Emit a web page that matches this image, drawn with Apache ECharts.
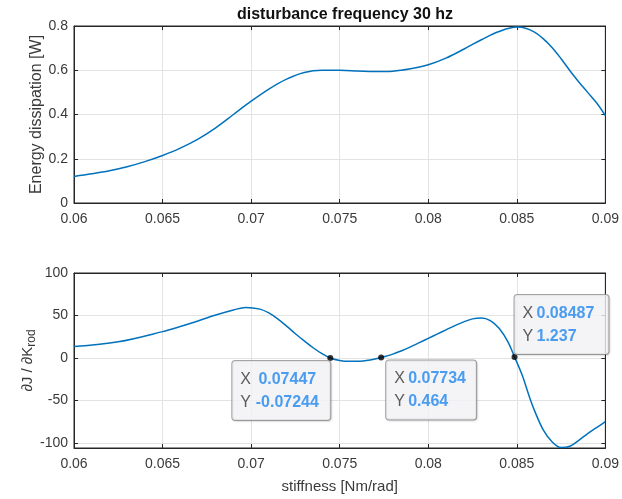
<!DOCTYPE html>
<html>
<head>
<meta charset="utf-8">
<script src="https://cdn.jsdelivr.net/npm/echarts@6/dist/echarts.min.js"></script>
<style>
  html, body { margin: 0; padding: 0; background: #fff; }
  #chart { width: 622px; height: 499px; }
</style>
</head>
<body>
<div id="chart"></div>
<script>
// Stiffness sweep (Nm/rad)
const stiffness = [0.060, 0.061, 0.062, 0.063, 0.064, 0.065, 0.066, 0.067, 0.068, 0.069,
  0.070, 0.071, 0.072, 0.073, 0.074, 0.075, 0.076, 0.077, 0.078, 0.079,
  0.080, 0.081, 0.082, 0.083, 0.084, 0.085, 0.0855, 0.086, 0.0865, 0.087,
  0.0875, 0.088, 0.0885, 0.089, 0.0895, 0.090];
// Energy dissipation (W)
const energy = [0.120, 0.132, 0.146, 0.164, 0.187, 0.215, 0.248, 0.289, 0.340, 0.400,
  0.460, 0.515, 0.560, 0.590, 0.600, 0.600, 0.597, 0.594, 0.596, 0.607,
  0.625, 0.655, 0.695, 0.738, 0.775, 0.795, 0.790, 0.772, 0.742, 0.702,
  0.652, 0.598, 0.547, 0.500, 0.453, 0.395];

// Gradient dJ/dK_rod
const gradX = [0.060, 0.0625, 0.065, 0.066, 0.067, 0.068, 0.069, 0.0697, 0.0705, 0.071,
  0.0715, 0.072, 0.0725, 0.073, 0.0735, 0.074, 0.07447, 0.075, 0.0755, 0.076,
  0.0765, 0.077, 0.07734, 0.078, 0.0785, 0.079, 0.0795, 0.080, 0.0805, 0.081,
  0.0815, 0.082, 0.0825, 0.083, 0.0835, 0.084, 0.0845, 0.08487, 0.0853, 0.0857,
  0.086, 0.0865, 0.087, 0.0875, 0.088, 0.0885, 0.089, 0.0895, 0.090];
const gradY = [13.4, 19, 31, 37, 43.5, 50.5, 56.5, 59.5, 57.5, 53,
  46, 37.5, 28.5, 20, 12, 5, -0.07244, -3, -4, -4,
  -3, -1.2, 0.464, 4.5, 8.5, 13, 18, 23, 28, 33,
  38, 42.5, 46, 47, 44, 35, 19, 1.237, -20, -45,
  -62, -85, -99, -105.5, -104, -97, -89, -82, -75];

// Annotated zero crossings
const tipX = [0.07447, 0.07734, 0.08487];
const tipY = [-0.07244, 0.464, 1.237];
const tipText = [['0.07447', '-0.07244'], ['0.07734', '0.464'], ['0.08487', '1.237']];

const xTicks = ['0.06', '0.065', '0.07', '0.075', '0.08', '0.085', '0.09'];
const topYTicks = ['0', '0.2', '0.4', '0.6', '0.8'];
const bottomYTicks = [-100, -50, 0, 50, 100];

const FONT = '"Liberation Sans", Arial, Helvetica, sans-serif';
const AX = '#262626';
const TXT = '#3a3a3a';
const LINE = '#0072BD';

function xAxisFor(gridIndex, name) {
  return {
    type: 'value', gridIndex: gridIndex, min: 0.06, max: 0.09, interval: 0.005,
    position: 'bottom',
    axisLine: { show: true, onZero: false, lineStyle: { color: AX, width: 1 } },
    axisTick: { show: true, inside: true, length: 4, lineStyle: { color: AX } },
    axisLabel: {
      color: TXT, fontFamily: FONT, fontSize: 14, margin: 9,
      formatter: (v, i) => xTicks[i]
    },
    splitLine: { show: true, lineStyle: { color: '#e3e3e3', width: 1 } },
    name: name || '', nameLocation: 'middle', nameGap: 31,
    nameTextStyle: { color: TXT, fontFamily: FONT, fontSize: 15 }
  };
}
function xMirror(gridIndex) {
  return {
    type: 'value', gridIndex: gridIndex, min: 0.06, max: 0.09, interval: 0.005,
    position: 'top',
    axisLine: { show: true, onZero: false, lineStyle: { color: AX } },
    axisTick: { show: true, inside: true, length: 4, lineStyle: { color: AX } },
    axisLabel: { show: false }, splitLine: { show: false }
  };
}

// Data tip boxes: width of the value column and placement next to the marker
const tipValueWidth = [66, 58, 62];
const tipPlacement = [
  { position: [3, 6], align: 'right', verticalAlign: 'top' },
  { position: [8, 6], align: 'left', verticalAlign: 'top' },
  { position: [3, 0], align: 'left', verticalAlign: 'bottom' }
];

const option = {
  backgroundColor: '#fff',
  animation: false,
  title: {
    text: 'disturbance frequency 30 hz', left: 340, top: 2, textAlign: 'center',
    textStyle: { fontFamily: FONT, fontSize: 16, fontWeight: 'bold', color: '#111' }
  },
  grid: [
    { left: 74, right: 16, top: 26, height: 177, show: true, borderColor: AX, borderWidth: 1 },
    { left: 74, right: 16, top: 273, height: 175, show: true, borderColor: AX, borderWidth: 1 }
  ],
  xAxis: [
    xAxisFor(0),
    xAxisFor(1, 'stiffness [Nm/rad]'),
    xMirror(0),
    xMirror(1)
  ],
  yAxis: [
    {
      type: 'value', gridIndex: 0, min: 0, max: 0.8, interval: 0.2,
      axisLine: { show: true, onZero: false, lineStyle: { color: AX } },
      axisTick: { show: true, inside: true, length: 4, lineStyle: { color: AX } },
      axisLabel: { color: TXT, fontFamily: FONT, fontSize: 14, margin: 6,
        formatter: (v, i) => topYTicks[i] },
      splitLine: { show: true, lineStyle: { color: '#e3e3e3' } },
      name: 'Energy dissipation [W]', nameLocation: 'middle', nameGap: 29, nameMoveOverlap: false,
      nameTextStyle: { color: TXT, fontFamily: FONT, fontSize: 16 }
    },
    {
      type: 'value', gridIndex: 1, min: -106, max: 100,
      axisLine: { show: true, onZero: false, lineStyle: { color: AX } },
      axisTick: { show: true, inside: true, length: 4, customValues: bottomYTicks, lineStyle: { color: AX } },
      axisLabel: { color: TXT, fontFamily: FONT, fontSize: 14, margin: 6, customValues: bottomYTicks },
      splitLine: { show: true, lineStyle: { color: '#e3e3e3' } },
      name: '∂J / ∂K{sub|rod}', nameLocation: 'middle', nameGap: 36, nameMoveOverlap: false,
      nameTextStyle: { color: TXT, fontFamily: FONT, fontSize: 15,
        rich: { sub: { fontSize: 12, verticalAlign: 'bottom', padding: [9, 0, 0, 0], color: TXT, fontFamily: FONT } } }
    },
    {
      type: 'value', gridIndex: 0, min: 0, max: 0.8, interval: 0.2, position: 'right',
      axisLine: { show: true, onZero: false, lineStyle: { color: AX } },
      axisTick: { show: true, inside: true, length: 4, lineStyle: { color: AX } },
      axisLabel: { show: false }, splitLine: { show: false }
    },
    {
      type: 'value', gridIndex: 1, min: -106, max: 100, position: 'right',
      axisLine: { show: true, onZero: false, lineStyle: { color: AX } },
      axisTick: { show: true, inside: true, length: 4, customValues: bottomYTicks, lineStyle: { color: AX } },
      axisLabel: { show: false }, splitLine: { show: false }
    }
  ],
  series: [
    {
      type: 'line', xAxisIndex: 0, yAxisIndex: 0, smooth: 0.35, symbol: 'none',
      lineStyle: { color: LINE, width: 1.5 },
      data: stiffness.map((x, i) => [x, energy[i]])
    },
    {
      type: 'line', xAxisIndex: 1, yAxisIndex: 1, smooth: 0.35, symbol: 'none',
      lineStyle: { color: LINE, width: 1.5 },
      data: gradX.map((x, i) => [x, gradY[i]])
    },
    {
      type: 'scatter', xAxisIndex: 1, yAxisIndex: 1, symbolSize: 6, z: 5,
      itemStyle: { color: '#000' },
      data: tipX.map((x, i) => ({
        value: [x, tipY[i]],
        label: Object.assign({
          show: true,
          formatter: '{k|X} {v|' + tipText[i][0] + '}\n{k|Y} {v|' + tipText[i][1] + '}',
          backgroundColor: '#f7f8fb', borderColor: '#8f8f8f', borderWidth: 1, borderRadius: 3,
          padding: [7, 10, 6, 8],
          shadowColor: 'rgba(0,0,0,0.12)', shadowBlur: 2, shadowOffsetX: 1, shadowOffsetY: 1,
          rich: {
            k: { color: '#333', fontFamily: FONT, fontSize: 16, lineHeight: 23 },
            v: { color: '#1f86ee', fontFamily: FONT, fontSize: 16, fontWeight: 'bold', lineHeight: 23,
                 width: tipValueWidth[i], align: 'left' }
          }
        }, tipPlacement[i])
      }))
    }
  ]
};

echarts.init(document.getElementById('chart'), null, { renderer: 'canvas' }).setOption(option);
</script>
</body>
</html>
